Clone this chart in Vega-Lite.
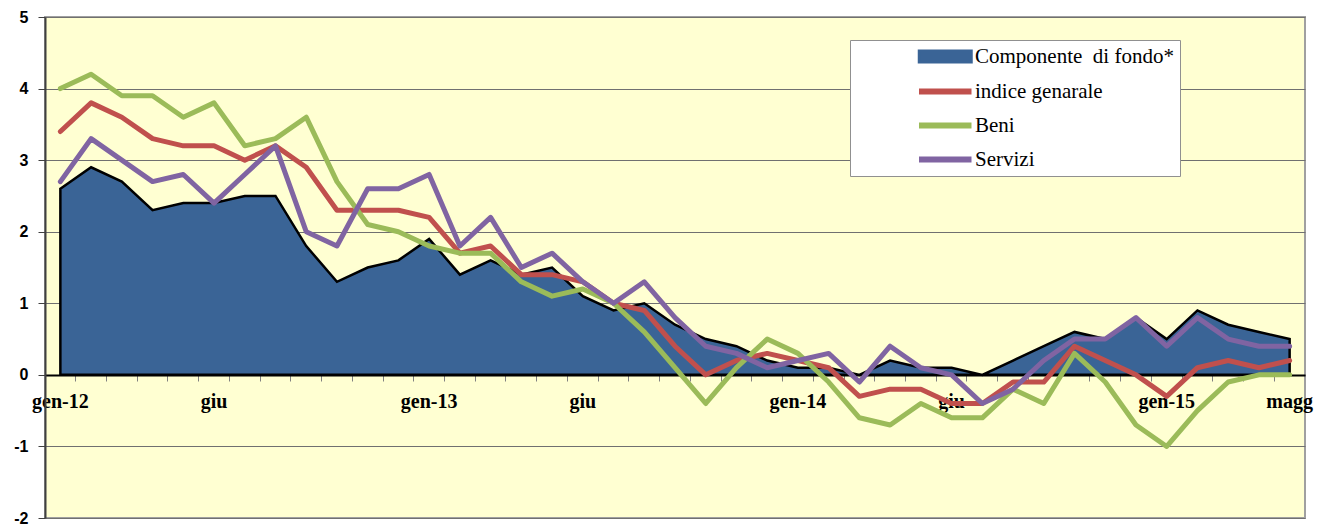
{
  "$schema": "https://vega.github.io/schema/vega-lite/v6.json",
  "width": 1260,
  "height": 501,
  "autosize": {"type": "none"},
  "padding": {"left": 45, "top": 17, "right": 12, "bottom": 11},
  "background": "white",
  "config": {
    "view": {"fill": "#FFFFD2", "stroke": "#A0A0A0", "strokeWidth": 2}
  },
  "data": {
    "values": [
      {"m": "2012-01", "fondo": 2.6, "indice": 3.4, "beni": 4.0, "servizi": 2.7},
      {"m": "2012-02", "fondo": 2.9, "indice": 3.8, "beni": 4.2, "servizi": 3.3},
      {"m": "2012-03", "fondo": 2.7, "indice": 3.6, "beni": 3.9, "servizi": 3.0},
      {"m": "2012-04", "fondo": 2.3, "indice": 3.3, "beni": 3.9, "servizi": 2.7},
      {"m": "2012-05", "fondo": 2.4, "indice": 3.2, "beni": 3.6, "servizi": 2.8},
      {"m": "2012-06", "fondo": 2.4, "indice": 3.2, "beni": 3.8, "servizi": 2.4},
      {"m": "2012-07", "fondo": 2.5, "indice": 3.0, "beni": 3.2, "servizi": 2.8},
      {"m": "2012-08", "fondo": 2.5, "indice": 3.2, "beni": 3.3, "servizi": 3.2},
      {"m": "2012-09", "fondo": 1.8, "indice": 2.9, "beni": 3.6, "servizi": 2.0},
      {"m": "2012-10", "fondo": 1.3, "indice": 2.3, "beni": 2.7, "servizi": 1.8},
      {"m": "2012-11", "fondo": 1.5, "indice": 2.3, "beni": 2.1, "servizi": 2.6},
      {"m": "2012-12", "fondo": 1.6, "indice": 2.3, "beni": 2.0, "servizi": 2.6},
      {"m": "2013-01", "fondo": 1.9, "indice": 2.2, "beni": 1.8, "servizi": 2.8},
      {"m": "2013-02", "fondo": 1.4, "indice": 1.7, "beni": 1.7, "servizi": 1.8},
      {"m": "2013-03", "fondo": 1.6, "indice": 1.8, "beni": 1.7, "servizi": 2.2},
      {"m": "2013-04", "fondo": 1.4, "indice": 1.4, "beni": 1.3, "servizi": 1.5},
      {"m": "2013-05", "fondo": 1.5, "indice": 1.4, "beni": 1.1, "servizi": 1.7},
      {"m": "2013-06", "fondo": 1.1, "indice": 1.3, "beni": 1.2, "servizi": 1.3},
      {"m": "2013-07", "fondo": 0.9, "indice": 1.0, "beni": 1.0, "servizi": 1.0},
      {"m": "2013-08", "fondo": 1.0, "indice": 0.9, "beni": 0.6, "servizi": 1.3},
      {"m": "2013-09", "fondo": 0.7, "indice": 0.4, "beni": 0.1, "servizi": 0.8},
      {"m": "2013-10", "fondo": 0.5, "indice": 0.0, "beni": -0.4, "servizi": 0.4},
      {"m": "2013-11", "fondo": 0.4, "indice": 0.2, "beni": 0.1, "servizi": 0.3},
      {"m": "2013-12", "fondo": 0.2, "indice": 0.3, "beni": 0.5, "servizi": 0.1},
      {"m": "2014-01", "fondo": 0.1, "indice": 0.2, "beni": 0.3, "servizi": 0.2},
      {"m": "2014-02", "fondo": 0.1, "indice": 0.1, "beni": -0.1, "servizi": 0.3},
      {"m": "2014-03", "fondo": 0.0, "indice": -0.3, "beni": -0.6, "servizi": -0.1},
      {"m": "2014-04", "fondo": 0.2, "indice": -0.2, "beni": -0.7, "servizi": 0.4},
      {"m": "2014-05", "fondo": 0.1, "indice": -0.2, "beni": -0.4, "servizi": 0.1},
      {"m": "2014-06", "fondo": 0.1, "indice": -0.4, "beni": -0.6, "servizi": 0.0},
      {"m": "2014-07", "fondo": 0.0, "indice": -0.4, "beni": -0.6, "servizi": -0.4},
      {"m": "2014-08", "fondo": 0.2, "indice": -0.1, "beni": -0.2, "servizi": -0.2},
      {"m": "2014-09", "fondo": 0.4, "indice": -0.1, "beni": -0.4, "servizi": 0.2},
      {"m": "2014-10", "fondo": 0.6, "indice": 0.4, "beni": 0.3, "servizi": 0.5},
      {"m": "2014-11", "fondo": 0.5, "indice": 0.2, "beni": -0.1, "servizi": 0.5},
      {"m": "2014-12", "fondo": 0.8, "indice": 0.0, "beni": -0.7, "servizi": 0.8},
      {"m": "2015-01", "fondo": 0.5, "indice": -0.3, "beni": -1.0, "servizi": 0.4},
      {"m": "2015-02", "fondo": 0.9, "indice": 0.1, "beni": -0.5, "servizi": 0.8},
      {"m": "2015-03", "fondo": 0.7, "indice": 0.2, "beni": -0.1, "servizi": 0.5},
      {"m": "2015-04", "fondo": 0.6, "indice": 0.1, "beni": 0.0, "servizi": 0.4},
      {"m": "2015-05", "fondo": 0.5, "indice": 0.2, "beni": 0.0, "servizi": 0.4}
    ]
  },
  "transform": [
    {"fold": ["fondo", "indice", "beni", "servizi"], "as": ["serie", "v"]}
  ],
  "encoding": {
    "x": {
      "field": "m",
      "type": "ordinal",
      "sort": null,
      "scale": {"type": "band", "paddingInner": 0, "paddingOuter": 0},
      "axis": {
        "title": null,
        "offset": -143,
        "bandPosition": 0,
        "domainColor": "black",
        "domainWidth": 2,
        "tickColor": "#808080",
        "tickSize": 6,
        "tickWidth": 1,
        "labelAngle": 0,
        "labelOverlap": false,
        "labelFlush": false,
        "labelBound": false,
        "labelFont": "Liberation Serif",
        "labelFontWeight": "bold",
        "labelFontSize": 20,
        "labelColor": "black",
        "labelPadding": 10,
        "labelBaseline": "top",
        "labelExpr": "datum.value == '2012-01' ? 'gen-12' : datum.value == '2012-06' ? 'giu' : datum.value == '2013-01' ? 'gen-13' : datum.value == '2013-06' ? 'giu' : datum.value == '2014-01' ? 'gen-14' : datum.value == '2014-06' ? 'giu' : datum.value == '2015-01' ? 'gen-15' : datum.value == '2015-05' ? 'magg' : ''"
      }
    },
    "y": {
      "field": "v",
      "type": "quantitative",
      "scale": {"domain": [-2, 5], "nice": false, "zero": false},
      "axis": {
        "title": null,
        "values": [-2, -1, 0, 1, 2, 3, 4, 5],
        "labelExpr": "'' + datum.value",
        "grid": true,
        "gridColor": "#707070",
        "gridWidth": 1,
        "domainColor": "#404040",
        "domainWidth": 2,
        "tickColor": "#404040",
        "tickSize": 7,
        "labelFont": "Liberation Sans",
        "labelFontWeight": "bold",
        "labelFontSize": 16,
        "labelColor": "black",
        "labelPadding": 10
      }
    },
    "color": {
      "field": "serie",
      "type": "nominal",
      "scale": {
        "domain": ["fondo", "indice", "beni", "servizi"],
        "range": ["#3A6496", "#C0504D", "#9BBB59", "#8064A2"]
      },
      "legend": {
        "orient": "none",
        "legendX": 805,
        "legendY": 23,
        "title": null,
        "padding": 6,
        "fillColor": "white",
        "strokeColor": "#909090",
        "symbolSize": 100,
        "symbolType": "M10.5,-0.6H21V0.6H10.5Z",
        "symbolStrokeWidth": 0,
        "labelFont": "Liberation Serif",
        "labelFontSize": 21,
        "labelColor": "black",
        "labelOffset": 98,
        "labelLimit": 400,
        "rowPadding": 12,
        "labelExpr": "datum.value == 'fondo' ? 'Componente\u00a0 di fondo*' : datum.value == 'indice' ? 'indice genarale' : datum.value == 'beni' ? 'Beni' : 'Servizi'",
        "encode": {
          "symbols": {
            "enter": {
              "stroke": {"signal": "datum.value === 'fondo' ? 'black' : 'transparent'"},
              "strokeWidth": {"signal": "datum.value === 'fondo' ? 2.5 : 0"}
            },
            "update": {
              "shape": {"signal": "datum.value === 'fondo' ? 'M10.5,-1.15H21V1.15H10.5Z' : 'M10.5,-0.6H21V0.6H10.5Z'"},
              "fill": {"signal": "scale('color', datum.value)"},
              "fillOpacity": {"value": 1},
              "opacity": {"value": 1},
              "stroke": {"signal": "datum.value === 'fondo' ? 'black' : 'transparent'"},
              "strokeOpacity": {"value": 1},
              "strokeWidth": {"signal": "datum.value === 'fondo' ? 2.5 : 0"}
            }
          }
        }
      }
    }
  },
  "layer": [
    {
      "transform": [{"filter": "datum.serie == 'fondo'"}],
      "mark": {"type": "area", "stroke": "black", "strokeWidth": 2.5, "opacity": 1, "fillOpacity": 1}
    },
    {
      "transform": [{"filter": "datum.serie != 'fondo'"}],
      "mark": {"type": "line", "strokeWidth": 5, "strokeJoin": "round", "strokeCap": "round"}
    }
  ]
}
